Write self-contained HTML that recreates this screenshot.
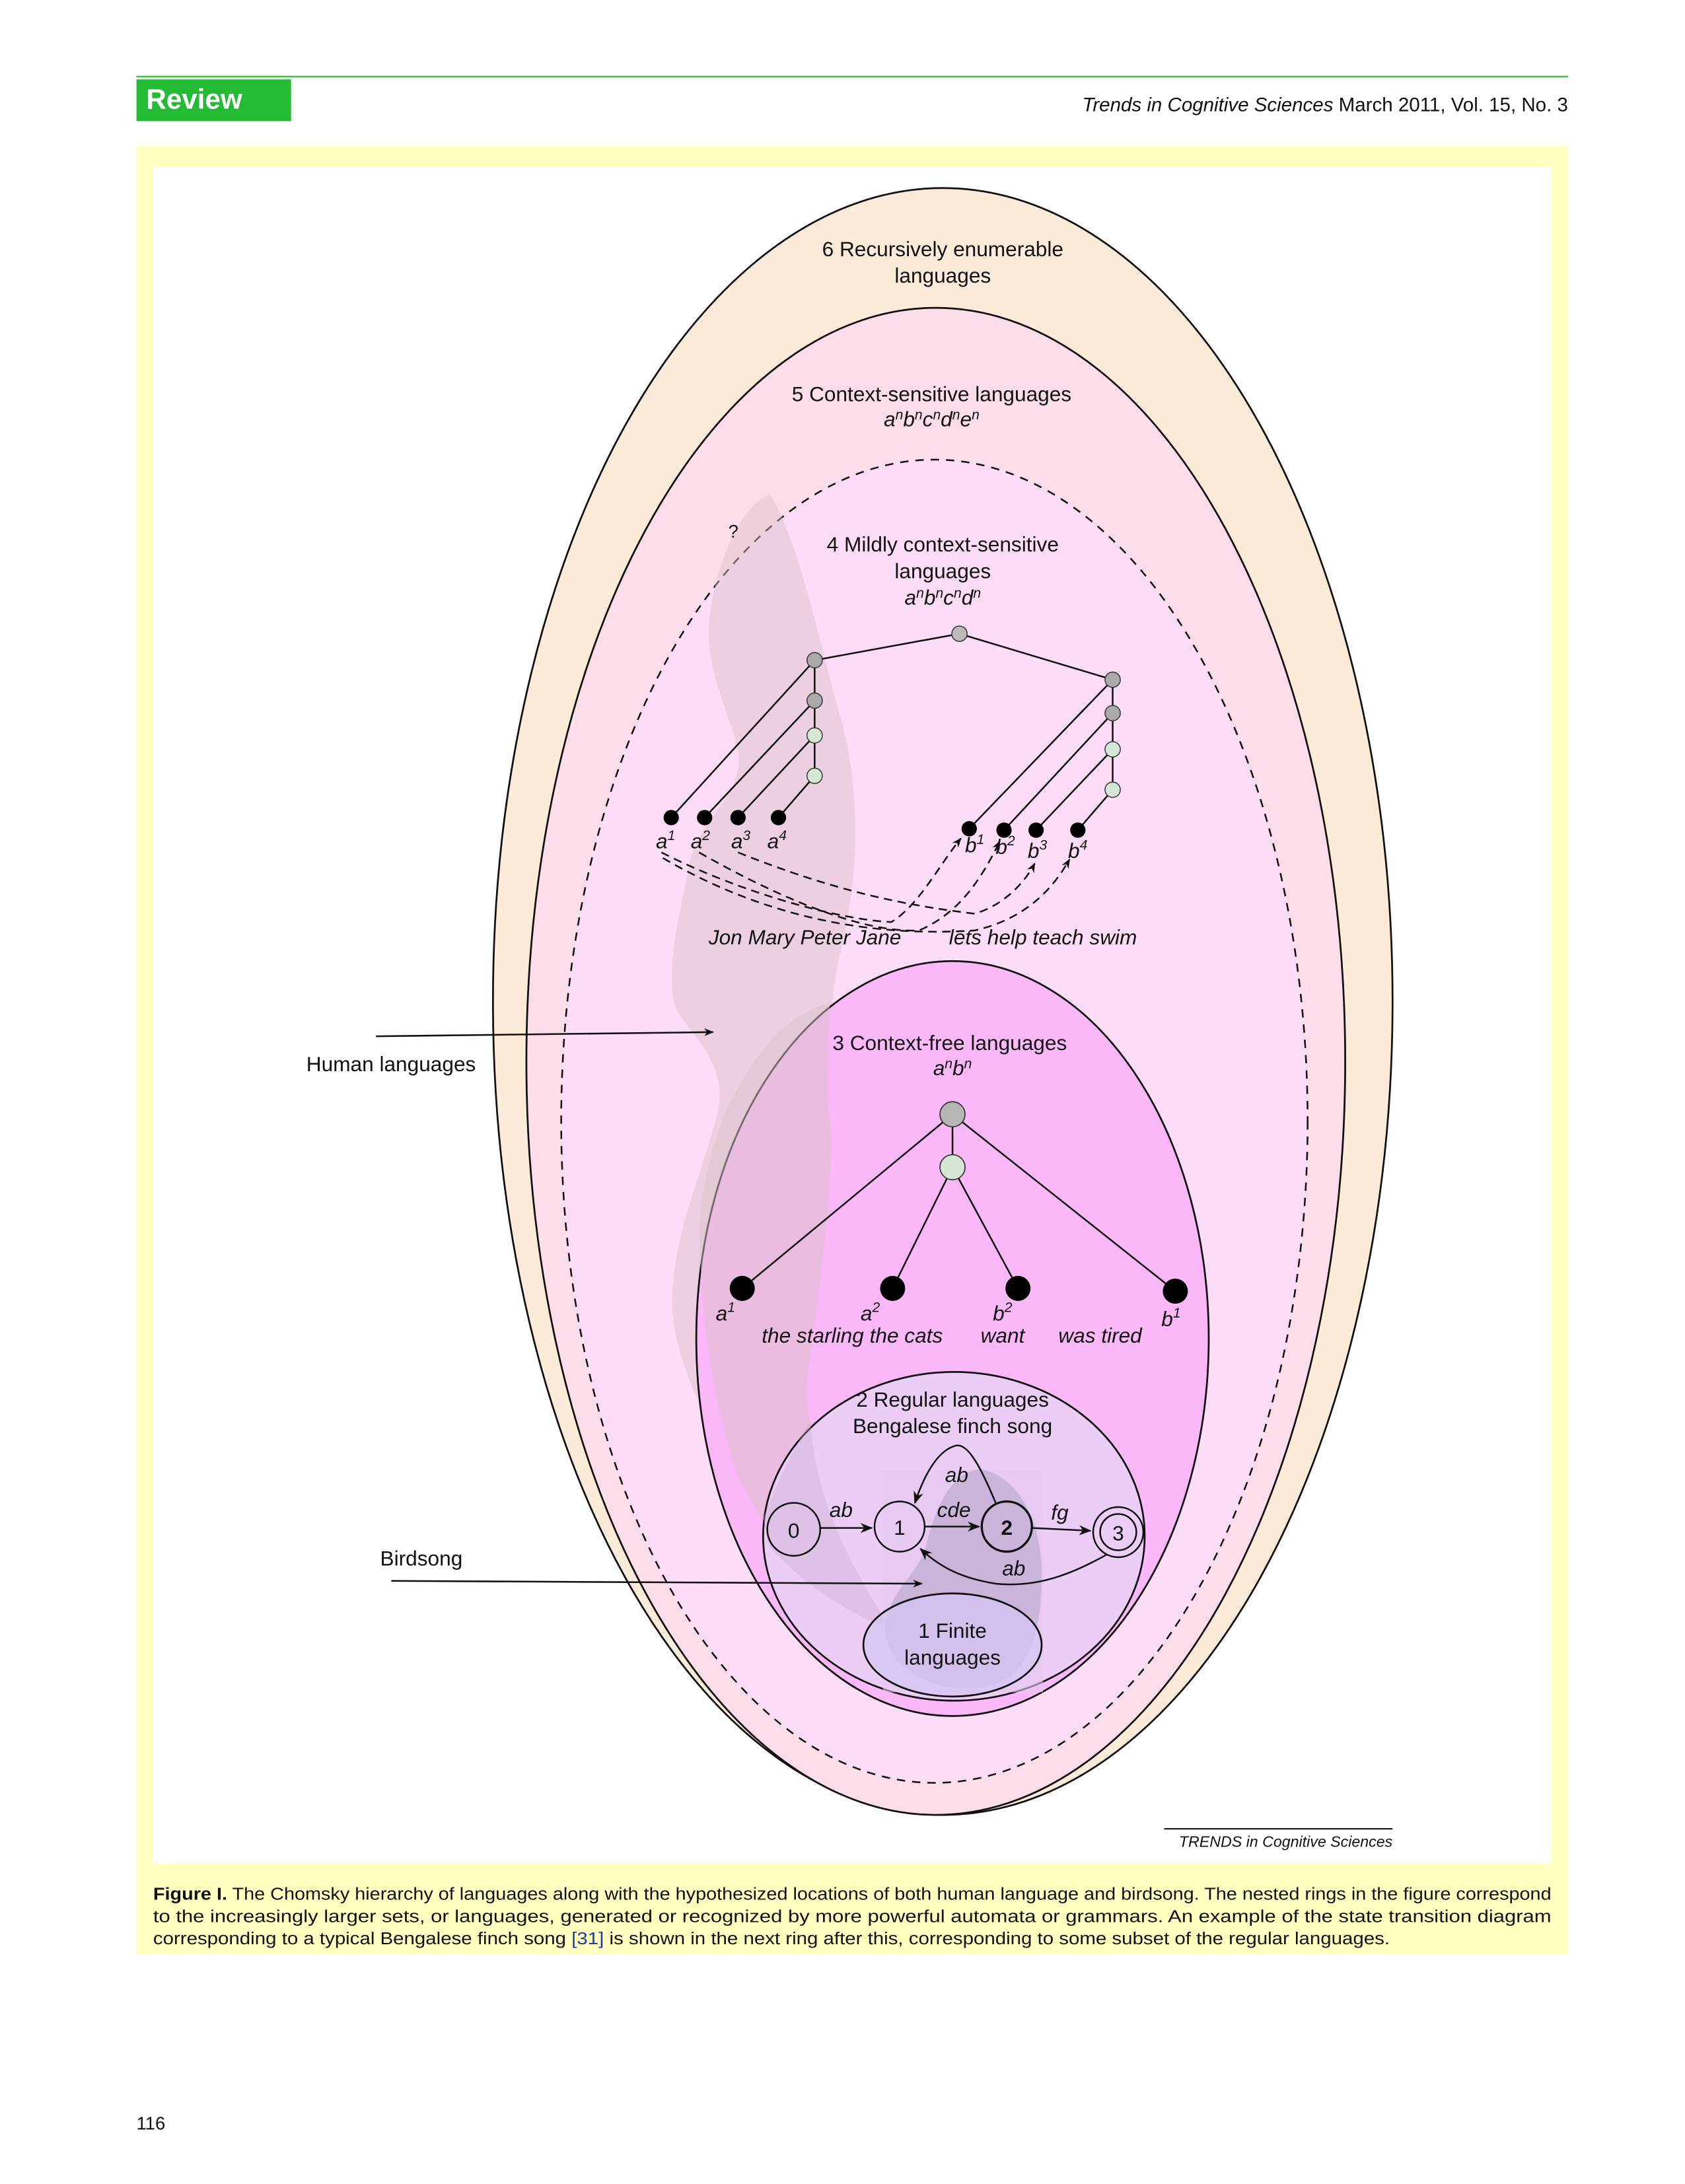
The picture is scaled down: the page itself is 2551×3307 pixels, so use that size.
<!DOCTYPE html>
<html><head><meta charset="utf-8"><style>
html,body{margin:0;padding:0;background:#fff;width:2551px;height:3307px;overflow:hidden}
svg{display:block}
text{font-family:"Liberation Sans",sans-serif;fill:#111}
.i{font-style:italic}
</style></head><body>
<svg width="2551" height="3307" viewBox="0 0 1210 1568" preserveAspectRatio="none" xmlns="http://www.w3.org/2000/svg">
<defs>
<marker id="ah" viewBox="0 0 10 10" refX="9" refY="5" markerWidth="7" markerHeight="7" orient="auto" markerUnits="userSpaceOnUse"><path d="M0,1 L10,5 L0,9 L3,5z" fill="#111"/></marker>
<marker id="ahs" viewBox="0 0 10 10" refX="9" refY="5" markerWidth="9" markerHeight="9" orient="auto" markerUnits="userSpaceOnUse"><path d="M0,1 L10,5 L0,9 L3,5z" fill="#111"/></marker>
</defs>
<line x1="98" y1="55" x2="1126" y2="55" stroke="#3cc33c" stroke-width="1.2"/>
<rect x="98" y="57" width="111" height="30" fill="#22bb33"/>
<text x="105" y="78" font-size="20" font-weight="bold" style="fill:#fff">Review</text>
<text x="1126" y="80" font-size="14" text-anchor="end"><tspan class="i">Trends in Cognitive Sciences</tspan>  March 2011, Vol. 15, No. 3</text>
<rect x="98" y="105" width="1028" height="1298" fill="#ffffc0"/>
<rect x="110" y="120" width="1004" height="1218" fill="#fff"/>
<ellipse cx="677" cy="719" rx="323" ry="584" fill="#fdebd9" stroke="#111" stroke-width="1.3"/>
<ellipse cx="672" cy="762" rx="294" ry="541" fill="#fddde9" stroke="#111" stroke-width="1.3"/>
<ellipse cx="671" cy="805" rx="268" ry="475" fill="#fcdcf7" stroke="#111" stroke-width="1.2" stroke-dasharray="6,5"/>
<path d="M553,355 C575,390 590,470 605,520 C620,580 615,640 602,690 C596,720 594,760 596,800 C600,860 585,940 580,990 C575,1040 610,1100 640,1170 C600,1160 560,1120 530,1060 C495,1000 480,960 483,925 C486,880 505,840 515,800 C525,760 490,740 484,720 C478,690 490,650 495,620 C505,580 540,570 528,530 C518,500 505,470 510,440 C515,400 535,360 553,355z" fill="#d9c0c8" fill-opacity="0.45"/>
<ellipse cx="684" cy="961" rx="184" ry="271" fill="#fbb8f8" stroke="#111" stroke-width="1.3"/>
<path d="M503,905 C500,860 510,830 520,800 C540,760 560,730 596,720 C594,760 594,800 596,800 C600,860 585,940 580,990 C575,1040 610,1100 640,1170 C600,1160 560,1120 530,1060 C510,1000 505,950 503,905z" fill="#d9c0c8" fill-opacity="0.5"/>
<ellipse cx="685" cy="1103" rx="137" ry="118" fill="#eccdf6" stroke="#111" stroke-width="1.3"/>
<path d="M548,1090 C560,1060 570,1040 582,1020 C585,1060 595,1100 640,1170 C600,1155 570,1130 552,1110z" fill="#c8a8c8" fill-opacity="0.35"/>
<rect x="634" y="1055" width="115" height="160" fill="#e6c6f0" fill-opacity="0.6"/>
<path d="M705,1055 C730,1060 748,1090 748,1130 C748,1170 740,1210 700,1212 C660,1214 632,1190 636,1165 C640,1140 660,1130 665,1110 C672,1080 685,1055 705,1055z" fill="#a89cbc" fill-opacity="0.45"/>
<ellipse cx="684" cy="1181" rx="64" ry="37" fill="#d4c6f4" fill-opacity="0.7" stroke="#111" stroke-width="1.3"/>
<text x="677" y="184" font-size="15" text-anchor="middle">6 Recursively enumerable</text>
<text x="677" y="203" font-size="15" text-anchor="middle">languages</text>
<text x="669" y="288" font-size="15" text-anchor="middle">5 Context-sensitive languages</text>
<text x="669" y="306" font-size="15" text-anchor="middle" class="i">a<tspan font-size="10" dy="-5">n</tspan><tspan dy="5">b</tspan><tspan font-size="10" dy="-5">n</tspan><tspan dy="5">c</tspan><tspan font-size="10" dy="-5">n</tspan><tspan dy="5">d</tspan><tspan font-size="10" dy="-5">n</tspan><tspan dy="5">e</tspan><tspan font-size="10" dy="-5">n</tspan></text>
<text x="523" y="386" font-size="13">?</text>
<text x="677" y="396" font-size="15" text-anchor="middle">4 Mildly context-sensitive</text>
<text x="677" y="415" font-size="15" text-anchor="middle">languages</text>
<text x="677" y="434" font-size="15" text-anchor="middle" class="i">a<tspan font-size="10" dy="-5">n</tspan><tspan dy="5">b</tspan><tspan font-size="10" dy="-5">n</tspan><tspan dy="5">c</tspan><tspan font-size="10" dy="-5">n</tspan><tspan dy="5">d</tspan><tspan font-size="10" dy="-5">n</tspan></text>
<g stroke="#111" stroke-width="1.2" fill="none">
<line x1="689" y1="455" x2="585" y2="474"/><line x1="689" y1="455" x2="799" y2="488"/>
<line x1="585" y1="474" x2="585" y2="557"/><line x1="799" y1="488" x2="799" y2="567"/>
<line x1="585" y1="474" x2="482" y2="587"/><line x1="585" y1="503" x2="506" y2="587"/><line x1="585" y1="528" x2="530" y2="587"/><line x1="585" y1="557" x2="559" y2="587"/>
<line x1="799" y1="488" x2="696" y2="595"/><line x1="799" y1="512" x2="721" y2="596"/><line x1="799" y1="538" x2="744" y2="596"/><line x1="799" y1="567" x2="774" y2="596"/>
</g>
<g stroke="#333" stroke-width="0.7">
<circle cx="689" cy="455" r="5.5" fill="#bbb"/><circle cx="585" cy="474" r="5.5" fill="#aaa"/><circle cx="585" cy="503" r="5.5" fill="#aaa"/><circle cx="585" cy="528" r="5.5" fill="#d4e6d4"/><circle cx="585" cy="557" r="5.5" fill="#d4e6d4"/>
<circle cx="799" cy="488" r="5.5" fill="#aaa"/><circle cx="799" cy="512" r="5.5" fill="#aaa"/><circle cx="799" cy="538" r="5.5" fill="#d4e6d4"/><circle cx="799" cy="567" r="5.5" fill="#d4e6d4"/>
</g>
<g fill="#000"><circle cx="482" cy="587" r="5.5"/><circle cx="506" cy="587" r="5.5"/><circle cx="530" cy="587" r="5.5"/><circle cx="559" cy="587" r="5.5"/>
<circle cx="696" cy="595" r="5.5"/><circle cx="721" cy="596" r="5.5"/><circle cx="744" cy="596" r="5.5"/><circle cx="774" cy="596" r="5.5"/></g>
<g font-size="15" class="i">
<text x="471" y="609">a<tspan font-size="10" dy="-6">1</tspan></text><text x="496" y="609">a<tspan font-size="10" dy="-6">2</tspan></text><text x="525" y="609">a<tspan font-size="10" dy="-6">3</tspan></text><text x="551" y="609">a<tspan font-size="10" dy="-6">4</tspan></text>
<text x="693" y="612">b<tspan font-size="10" dy="-6">1</tspan></text><text x="715" y="613">b<tspan font-size="10" dy="-6">2</tspan></text><text x="738" y="616">b<tspan font-size="10" dy="-6">3</tspan></text><text x="767" y="616">b<tspan font-size="10" dy="-6">4</tspan></text>
</g>
<g stroke="#111" stroke-width="1.2" fill="none" stroke-dasharray="6,4">
<path d="M475,612 C530,640 600,660 640,662 C660,650 675,620 690,602" marker-end="url(#ah)"/>
<path d="M502,612 C560,645 620,670 660,668 C690,655 705,630 718,604" marker-end="url(#ah)"/>
<path d="M530,612 C600,640 650,650 700,656 C720,650 735,635 743,620" marker-end="url(#ah)"/>
<path d="M476,616 C560,665 640,672 700,668 C735,660 755,640 768,617" marker-end="url(#ah)"/>
</g>
<text x="578" y="678" font-size="15" class="i" text-anchor="middle">Jon Mary Peter Jane</text>
<text x="749" y="678" font-size="15" class="i" text-anchor="middle">lets help teach swim</text>
<text x="220" y="769" font-size="15">Human languages</text>
<line x1="270" y1="744" x2="512" y2="741" stroke="#111" stroke-width="1.2" marker-end="url(#ah)"/>
<text x="682" y="754" font-size="15" text-anchor="middle">3 Context-free languages</text>
<text x="684" y="772" font-size="15" text-anchor="middle" class="i">a<tspan font-size="10" dy="-5">n</tspan><tspan dy="5">b</tspan><tspan font-size="10" dy="-5">n</tspan></text>
<g stroke="#111" stroke-width="1.2"><line x1="684" y1="800" x2="533" y2="925"/><line x1="684" y1="800" x2="844" y2="927"/><line x1="684" y1="800" x2="684" y2="838"/><line x1="684" y1="838" x2="641" y2="925"/><line x1="684" y1="838" x2="731" y2="925"/></g>
<circle cx="684" cy="800" r="9" fill="#b5b5b5" stroke="#333" stroke-width="0.8"/>
<circle cx="684" cy="838" r="9" fill="#d4e6d4" stroke="#333" stroke-width="0.8"/>
<g fill="#000"><circle cx="533" cy="925" r="9"/><circle cx="641" cy="925" r="9"/><circle cx="731" cy="925" r="9"/><circle cx="844" cy="927" r="9"/></g>
<g font-size="15" class="i">
<text x="514" y="948">a<tspan font-size="10" dy="-6">1</tspan></text><text x="618" y="948">a<tspan font-size="10" dy="-6">2</tspan></text><text x="713" y="948">b<tspan font-size="10" dy="-6">2</tspan></text><text x="834" y="952">b<tspan font-size="10" dy="-6">1</tspan></text>
<text x="612" y="964" text-anchor="middle">the starling the cats</text><text x="720" y="964" text-anchor="middle">want</text><text x="790" y="964" text-anchor="middle">was tired</text>
</g>
<text x="684" y="1010" font-size="15" text-anchor="middle">2 Regular languages</text>
<text x="684" y="1029" font-size="15" text-anchor="middle">Bengalese finch song</text>
<g stroke="#111" stroke-width="1.2" fill="none">
<circle cx="570" cy="1098" r="19"/><circle cx="646" cy="1096" r="18"/><circle cx="723" cy="1096" r="18" stroke-width="1.6"/><circle cx="803" cy="1100" r="18"/><circle cx="803" cy="1100" r="13"/>
<line x1="589" y1="1097" x2="626" y2="1097" marker-end="url(#ahs)"/>
<line x1="664" y1="1096" x2="703" y2="1096" marker-end="url(#ahs)"/>
<line x1="741" y1="1097" x2="783" y2="1099" marker-end="url(#ahs)"/>
<path d="M715,1079 C705,1055 695,1035 686,1038 C675,1041 665,1055 657,1079" marker-end="url(#ahs)"/>
<path d="M795,1116 C770,1130 745,1140 715,1137 C690,1133 675,1125 661,1112" marker-end="url(#ahs)"/>
</g>
<g font-size="15" class="i"><text x="604" y="1089" text-anchor="middle">ab</text><text x="685" y="1089" text-anchor="middle">cde</text><text x="761" y="1091" text-anchor="middle">fg</text><text x="687" y="1064" text-anchor="middle">ab</text><text x="728" y="1131" text-anchor="middle">ab</text></g>
<g font-size="15" text-anchor="middle"><text x="570" y="1104">0</text><text x="646" y="1102">1</text><text x="723" y="1102" font-weight="bold">2</text><text x="803" y="1106">3</text></g>
<text x="684" y="1176" font-size="15" text-anchor="middle">1 Finite</text>
<text x="684" y="1195" font-size="15" text-anchor="middle">languages</text>
<text x="273" y="1124" font-size="15">Birdsong</text>
<line x1="281" y1="1135" x2="662" y2="1137" stroke="#111" stroke-width="1.2" marker-end="url(#ah)"/>
<line x1="836" y1="1313" x2="1000" y2="1313" stroke="#111" stroke-width="1"/>
<text x="1000" y="1326" font-size="11" class="i" text-anchor="end">TRENDS in Cognitive Sciences</text>
<g font-size="12.5">
<text x="110" y="1364" textLength="1004" lengthAdjust="spacingAndGlyphs"><tspan font-weight="bold">Figure I.</tspan> The Chomsky hierarchy of languages along with the hypothesized locations of both human language and birdsong. The nested rings in the figure correspond</text>
<text x="110" y="1380" textLength="1004" lengthAdjust="spacingAndGlyphs">to the increasingly larger sets, or languages, generated or recognized by more powerful automata or grammars. An example of the state transition diagram</text>
<text x="110" y="1396" textLength="888" lengthAdjust="spacingAndGlyphs">corresponding to a typical Bengalese finch song <tspan style="fill:#1a3aa8">[31]</tspan> is shown in the next ring after this, corresponding to some subset of the regular languages.</text>
</g>
<text x="98" y="1529" font-size="13">116</text>
</svg>
</body></html>
